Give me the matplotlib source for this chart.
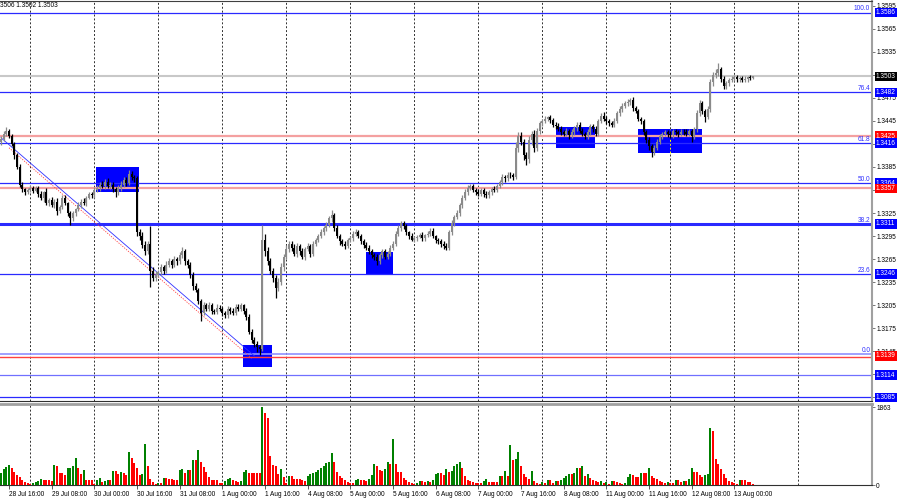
import numpy as np
import matplotlib.pyplot as plt
from matplotlib.patches import Rectangle
from matplotlib.transforms import blended_transform_factory

plt.rcParams['font.family'] = ['Liberation Sans', 'DejaVu Sans']

# GBPUSD H1, 28 Jul 13:00 .. 13 Aug 07:00
# prices in pips above 1.3000, open of each bar = previous close
first_open = 418
closes = [
    422, 428, 432, 425, 415, 400, 385, 362,
    356, 352, 355, 358, 354, 357,
    350, 345, 352, 338, 342, 336, 340, 328, 333,
    345, 338, 325, 318,
    325, 330, 335, 340, 338, 345, 350, 348, 355,
    358, 362, 360, 366, 360, 362, 356, 352, 358, 362, 368, 364, 376, 372, 370,
    300, 295,
    283, 276, 285, 250, 240, 245,
    248, 255, 250, 258, 262, 258, 265, 262,
    270, 275, 262, 258,
    245, 230, 225, 210, 195, 205,
    200, 205, 198, 196, 202, 200, 195, 192, 200, 198, 195, 203, 200, 205, 198,
    190, 170, 160, 155, 150, 148,
    290,
    275, 262, 250, 240, 228, 235,
    255, 268, 278, 285, 280, 272, 282,
    275, 268, 278, 282, 272, 285, 290,
    295, 300, 305, 310, 318, 322,
    305, 295, 288, 285, 282, 290,
    292, 298, 300, 295, 288, 284, 280,
    275, 270, 268, 262, 270, 275, 268, 272, 280, 285,
    298, 305, 312, 308,
    300, 295, 290, 292, 294, 296, 292, 296, 298, 302, 295, 290, 288, 285,
    282, 280,
    300, 312, 320, 325, 335, 345,
    352, 358, 360,
    355, 352, 350, 355, 350, 348, 352, 356, 355, 360,
    365, 372, 370, 375, 374, 372,
    410,
    425, 418, 400, 395, 420, 428, 410,
    432, 442, 445,
    448, 450, 446, 440,
    438, 435, 430, 428, 432, 426, 430, 436, 440, 432, 428, 425, 430, 438, 435, 428,
    445, 452, 448, 445, 442, 440, 445,
    455, 460, 465, 468, 470, 472,
    462, 458, 448, 445,
    430, 420, 412, 405, 410, 418, 425,
    428, 430, 428, 426, 432, 430, 428, 431, 430, 428, 432, 425, 434,
    455, 468, 458, 450, 460,
    495, 505, 508, 512,
    500, 490, 494, 498,
    500, 502, 499, 501, 498, 500, 502, 501, 503,
]
wick_up = [
    3, 4, 5, 2, 3, 2, 3, 4,
    3, 2, 3, 4, 2, 3,
    3, 4, 2, 5, 3, 4, 3, 4, 3,
    3, 4, 2, 3,
    3, 2, 4, 3, 4, 2, 3, 3, 4,
    4, 3, 5, 3, 4, 3, 4, 3, 4, 5, 4, 4, 5, 4, 3,
    3, 4,
    5, 6, 4, 23, 5, 4,
    3, 4, 3, 4, 5, 3, 4, 3,
    4, 6, 3, 3,
    3, 3, 4, 3, 3, 4,
    3, 4, 3, 2, 4, 3, 3, 2, 4, 3, 3, 4, 3, 3, 2,
    3, 3, 4, 3, 3, 3,
    20,
    8, 6, 5, 4, 5, 6,
    5, 4, 5, 4, 4, 5, 4,
    3, 4, 3, 4, 3, 4, 3,
    3, 4, 3, 4, 3, 7,
    3, 4, 3, 3, 4, 3,
    3, 3, 4, 3, 3, 3, 3,
    3, 3, 3, 4, 3, 3, 3, 3, 3, 3,
    3, 4, 3, 3,
    3, 2, 4, 3, 2, 3, 4, 2, 3, 3, 4, 2, 3, 3,
    3, 4,
    3, 4, 3, 4, 3, 4,
    4, 3, 3,
    3, 3, 4, 3, 3, 4, 3, 3, 4, 3,
    3, 4, 3, 4, 3, 3,
    8,
    5, 6, 4, 4, 5, 4, 5,
    4, 3, 3,
    3, 2, 3, 3,
    3, 4, 3, 3, 4, 3, 4, 3, 3, 3, 4, 3, 4, 3, 3, 3,
    3, 3, 4, 3, 3, 3, 4,
    3, 4, 3, 3, 3, 3,
    4, 3, 3, 2,
    3, 3, 4, 3, 3, 4, 3,
    3, 3, 3, 4, 3, 3, 3, 3, 3, 4, 3, 3, 3,
    4, 4, 3, 3, 4,
    5, 4, 4, 8,
    3, 4, 3, 3,
    3, 3, 3, 2, 3, 3, 2, 3, 1,
]
wick_dn = [
    4, 3, 3, 2, 3, 4, 3, 3,
    3, 4, 2, 3, 3, 2,
    4, 3, 5, 3, 4, 3, 4, 6, 3,
    3, 3, 4, 9,
    3, 4, 2, 3, 3, 4, 2, 3, 3,
    3, 4, 3, 4, 3, 4, 4, 6, 3, 4, 3, 4, 3, 4, 4,
    5, 5,
    4, 5, 4, 21, 3, 4,
    3, 3, 4, 3, 3, 4, 3, 4,
    3, 3, 4, 4,
    4, 5, 3, 4, 10, 3,
    3, 3, 4, 3, 2, 3, 4, 3, 3, 4, 3, 3, 3, 2, 4,
    4, 3, 4, 4, 6, 8,
    3,
    6, 5, 4, 5, 13, 5,
    4, 5, 3, 4, 4, 3, 4,
    4, 3, 4, 3, 4, 3, 3,
    3, 3, 4, 3, 3, 4,
    4, 3, 4, 3, 4, 3,
    3, 4, 3, 3, 3, 4, 3,
    3, 4, 4, 5, 3, 3, 3, 3, 3, 3,
    3, 3, 3, 4,
    3, 4, 2, 3, 3, 2, 3, 4, 2, 3, 3, 4, 3, 4,
    4, 3,
    3, 3, 4, 3, 4, 3,
    3, 4, 3,
    3, 4, 3, 3, 4, 3, 3, 4, 3, 3,
    3, 3, 4, 3, 3, 4,
    3,
    5, 5, 6, 8, 5, 6, 5,
    4, 4, 3,
    3, 3, 4, 3,
    3, 3, 4, 3, 3, 4, 3, 3, 4, 3, 3, 4, 3, 3, 4, 3,
    3, 3, 3, 4, 3, 3, 3,
    3, 3, 4, 3, 3, 4,
    4, 3, 3, 4,
    4, 4, 5, 7, 4, 3, 3,
    3, 3, 4, 3, 3, 3, 4, 3, 3, 3, 3, 7, 3,
    3, 4, 4, 7, 3,
    4, 4, 4, 5,
    4, 4, 4, 3,
    3, 3, 4, 3, 3, 3, 4, 3, 1,
]
# tick volumes, one line per day
volumes = [
    295, 374, 438, 478, 398, 318, 239, 191, 111, 80, 56,
    32, 56, 72, 96, 151, 111, 111, 111, 96, 478, 454, 295, 295, 239, 398, 414, 454, 637, 398, 271, 350, 127, 127, 111,
    32, 127, 159, 80, 96, 111, 111, 334, 334, 255, 318, 295, 239, 796, 653, 533, 398, 239, 271, 987, 454, 151, 80, 32,
    56, 56, 159, 159, 135, 135, 119, 111, 366, 382, 295, 350, 350, 605, 589, 836, 557, 430, 318, 191, 127, 127, 127, 56,
    56, 96, 135, 159, 111, 96, 80, 96, 318, 350, 295, 295, 295, 295, 295, 1863, 1711, 1592, 693, 478, 454, 255, 390, 191,
    40, 215, 215, 151, 135, 135, 111, 96, 215, 271, 295, 318, 350, 414, 454, 517, 557, 772, 549, 318, 215, 159, 111, 80,
    56, 56, 127, 143, 111, 111, 96, 135, 239, 494, 454, 350, 334, 374, 557, 509, 1091, 509, 318, 318, 159, 111, 80, 56,
    32, 56, 96, 96, 80, 96, 80, 111, 255, 295, 295, 239, 374, 318, 334, 454, 494, 557, 398, 215, 111, 96, 80, 56,
    56, 56, 96, 135, 80, 80, 80, 80, 207, 207, 334, 207, 955, 597, 613, 796, 454, 255, 191, 135, 334, 96, 56, 32,
    80, 56, 111, 111, 56, 96, 96, 111, 175, 215, 271, 255, 295, 398, 398, 454, 215, 255, 159, 111, 96, 80, 96, 56,
    80, 32, 96, 96, 80, 56, 32, 56, 191, 255, 239, 191, 191, 295, 295, 295, 398, 215, 175, 135, 96, 80, 56, 80,
    56, 56, 127, 111, 80, 96, 96, 135, 414, 318, 318, 239, 191, 239, 255, 1369, 1290, 613, 509, 374, 271, 159, 96, 80,
    56, 32, 111, 111, 111, 80, 80, 32,
]

time_labels = ["28 Jul 16:00", "29 Jul 08:00", "30 Jul 00:00", "30 Jul 16:00", "31 Jul 08:00",
               "1 Aug 00:00", "1 Aug 16:00", "4 Aug 08:00", "5 Aug 00:00", "5 Aug 16:00",
               "6 Aug 08:00", "7 Aug 00:00", "7 Aug 16:00", "8 Aug 08:00", "11 Aug 00:00",
               "11 Aug 16:00", "12 Aug 08:00", "13 Aug 00:00"]
label_bars = [3, 19, 35, 51, 67, 83, 99, 115, 131, 147, 163, 179, 195, 211, 227, 243, 259, 275]
day_bars = [11, 35, 59, 83, 107, 131, 155, 179, 203, 227, 251, 275, 299]

# horizontal levels
blue_levels = [1.3586, 1.3482, 1.3416, 1.3364, 1.3311, 1.3246, 1.3085]
red_levels = [1.3425, 1.3357]
fib_names = ["100.0", "76.4", "61.8", "50.0", "38.2", "23.6", "0.0"]
fib_levels = [1.3586, 1.3482, 1.3416, 1.3364, 1.3311, 1.3246, 1.3141]
low_red = 1.3138
low_blue = 1.3114
bid = 1.3503
price_tags = [(1.3586, '#0000ff'), (1.3503, '#000000'), (1.3482, '#0000ff'), (1.3425, '#ff0000'),
              (1.3416, '#0000ff'), (1.3364, '#0000ff'), (1.3357, '#ff0000'), (1.3311, '#0000ff'),
              (1.3246, '#0000ff'), (1.3139, '#ff0000'), (1.3114, '#0000ff'), (1.3085, '#0000ff')]

# blue rectangles (bar from, bar to, low, high)
box_x0 = [35.6, 90.7, 136.9, 208.0, 238.8]
box_x1 = [51.7, 101.6, 147.0, 222.7, 262.8]
box_lo = [1.3352, 1.3124, 1.3244, 1.3410, 1.3403]
box_hi = [1.3385, 1.3153, 1.3274, 1.3437, 1.3434]

# downtrend lines
trend_x = [0, 95]
trend_y = [1.3423, 1.3139]
fibline_x = [3, 94]
fibline_y = [1.3410, 1.3136]

c = 1.3 + np.array(closes) / 1e4
o = np.r_[1.3 + first_open / 1e4, c[:-1]]
h = np.maximum(o, c) + np.array(wick_up) / 1e4
l = np.minimum(o, c) - np.array(wick_dn) / 1e4
idx = np.arange(len(c))
bull = c >= o
cols = np.where(bull, '#8a8a8a', '#000000')

fig = plt.figure(figsize=(9, 5), dpi=100)
ax = fig.add_axes([0, 1 - 401 / 500, 872 / 900, 400 / 500])
axv = fig.add_axes([0, 15 / 500, 872 / 900, 81 / 500], sharex=ax)

ax.set_xlim(-0.375, 326.6)
ax.set_ylim(1.30803, 1.36011)

for b in day_bars:
    for a in (ax, axv):
        a.axvline(b, color='#303030', lw=0.7, ls=(0, (2, 2)), zorder=1)

for x0, x1, lo, hi in zip(box_x0, box_x1, box_lo, box_hi):
    ax.add_patch(Rectangle((x0, lo), x1 - x0, hi - lo, facecolor='#0000ff', edgecolor='none', zorder=1.5))
    for b in day_bars:
        if x0 < b < x1:
            ax.vlines(b, lo, hi, colors='#ffff00', lw=0.7, linestyles=(0, (2, 2)), zorder=1.6)

ax.axhline(bid, color='#c8c8c8', lw=1.5, zorder=1.2)
for y in blue_levels:
    ax.axhline(y, color='#2a2aff', lw=2.2 if y == 1.3311 else 0.9, zorder=2)
for y in red_levels:
    ax.axhline(y, color='#f4a0a0', lw=1.6, zorder=2)
ax.axhline(fib_levels[-1], color='#9090ff', lw=1.2, zorder=2)
ax.axhline(low_red, color='#ff4040', lw=1.0, zorder=2)
ax.axhline(low_blue, color='#7070ff', lw=0.9, zorder=2)

ax.plot(trend_x, trend_y, color='#3030ff', lw=0.6, zorder=2.5)
ax.plot(fibline_x, fibline_y, color='#ff4040', lw=0.6, ls=(0, (1.5, 1.5)), zorder=2.5)

# candles
ax.vlines(idx, l, h, colors=cols, lw=0.9, zorder=3)
body = np.maximum(np.abs(c - o), 0.00008)
ax.bar(idx, body, bottom=np.minimum(o, c), width=0.8, color=cols, zorder=3)

tr = blended_transform_factory(ax.transAxes, ax.transData)
for name, y in zip(fib_names, fib_levels):
    ax.text(0.998, y + 0.00003, name, transform=tr, ha='right', va='bottom', fontsize=4.7, color='#3030ff')

ax.yaxis.tick_right()
yt = np.arange(1.3085, 1.3596, 0.003)
ax.set_yticks(yt)
ax.set_yticklabels([f'{v:.4f}' for v in yt])
ax.tick_params(axis='y', labelsize=4.7, length=2, width=0.6, pad=1, color='#606060')
ax.tick_params(axis='x', length=0, labelbottom=False)
for y, col in price_tags:
    ax.text(1.0045, y, f'{y:.4f}', transform=tr, ha='left', va='center', fontsize=4.7, color='white',
            bbox=dict(boxstyle='square,pad=0.2', fc=col, ec='none'), zorder=10, clip_on=False)

ax.text(0.0, 0.988, "3506 1.3502 1.3503", transform=ax.transAxes, ha='left', va='center', fontsize=4.7)

ax.spines['left'].set_visible(False)
ax.spines['top'].set_color('#404040')
ax.spines['bottom'].set_color('#303030')
ax.spines['right'].set_color('#a0a0a0')
ax.spines['right'].set_linewidth(1.5)

# volumes: green when rising, red when falling
vol = np.array(volumes)
vcols = ['#008000' if i == 0 or vol[i] > vol[i - 1] else '#ff0000' for i in range(len(vol))]
axv.bar(idx, vol, width=0.8, color=vcols, zorder=3)
axv.set_ylim(0, 1935)
axv.yaxis.tick_right()
axv.set_yticks([0, 1863])
axv.set_yticklabels(['0', '1863'])
axv.tick_params(axis='y', labelsize=4.7, length=2, width=0.6, pad=1, color='#606060')
axv.set_xticks(label_bars)
axv.set_xticklabels(time_labels, ha='left')
axv.tick_params(axis='x', labelsize=4.7, length=3, width=0.6, pad=1.5, color='#404040')
axv.spines['left'].set_visible(False)
axv.spines['top'].set_color('#a0a0a0')
axv.spines['top'].set_linewidth(2)
axv.spines['bottom'].set_color('#303030')
axv.spines['right'].set_color('#a0a0a0')
axv.spines['right'].set_linewidth(1.5)

plt.savefig('out.png', dpi=100)
